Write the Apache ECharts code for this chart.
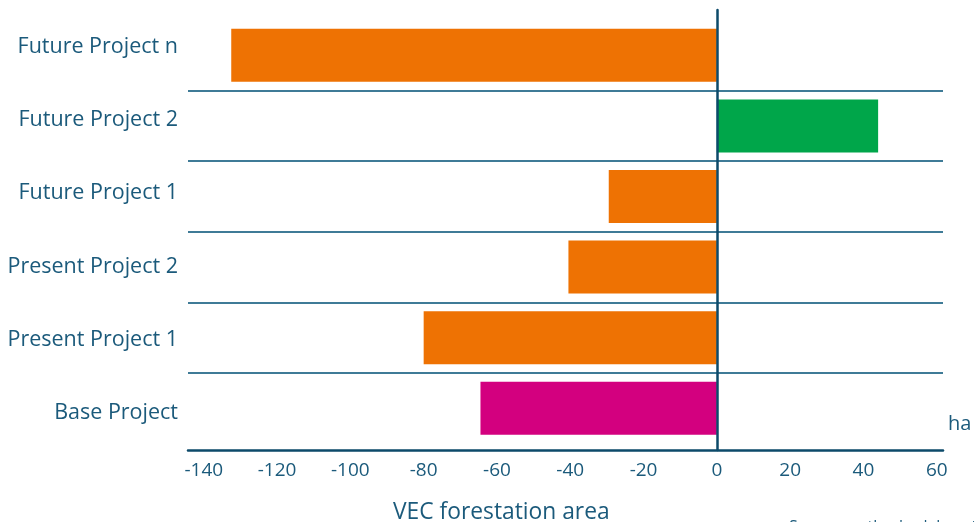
<!DOCTYPE html>
<html>
<head>
<meta charset="utf-8">
<script src="https://cdn.jsdelivr.net/npm/echarts@6/dist/echarts.min.js"></script>
<style>
  html, body { margin: 0; padding: 0; background: #ffffff; }
  #chart { width: 975px; height: 522px; }
</style>
</head>
<body>
<div id="chart"></div>
<script>
// Project categories, bottom to top
const categories = ['Base Project', 'Present Project 1', 'Present Project 2', 'Future Project 1', 'Future Project 2', 'Future Project n'];
// Change in forestation area per project (ha)
const values = [-64.5, -80, -40.5, -29.5, 44, -132.5];
// Bar colour per project
const barColors = ['#D3007F', '#EE7203', '#EE7203', '#EE7203', '#00A64A', '#EE7203'];
// Labelled ticks on the value axis
const tickValues = [-140, -120, -100, -80, -60, -40, -20, 0, 20, 40, 60];
const axisTitle = 'VEC forestation area';
const unitLabel = 'ha';
const sourceNote = "Source: author's elaboration";

const FONT = 'Open Sans';
const TEXT = '#1b5a7b';
const AXIS = '#0c4a6a';
const SEP = '#3f7b97';
const X_MIN = -144.3;
const X_MAX = 61.7;
const GRID_LEFT = 188;
const GRID_RIGHT = 32;

const chart = echarts.init(document.getElementById('chart'), null, { renderer: 'canvas' });

const option = {
  animation: false,
  backgroundColor: '#ffffff',
  textStyle: { fontFamily: FONT },
  grid: [
    // outer frame: value axis, zero line and category labels
    { left: GRID_LEFT, right: GRID_RIGHT, top: 10, bottom: 72, containLabel: false, outerBoundsMode: 'none' },
    // inner frame: bars and row separators
    { left: GRID_LEFT, right: GRID_RIGHT, top: 20, bottom: 78.4, containLabel: false, outerBoundsMode: 'none' }
  ],
  xAxis: [
    {
      gridIndex: 0,
      type: 'value',
      min: X_MIN,
      max: X_MAX,
      name: unitLabel,
      nameLocation: 'end',
      nameGap: 5,
      nameTextStyle: { color: TEXT, fontSize: 20, fontFamily: FONT, align: 'left', verticalAlign: 'bottom', padding: [0, 0, 16, 0] },
      axisLine: { show: true, onZero: false, lineStyle: { color: AXIS, width: 2.5 } },
      axisTick: { show: false },
      splitLine: { show: false },
      axisLabel: { customValues: tickValues, color: TEXT, fontSize: 19, fontFamily: FONT, margin: 11 }
    },
    {
      gridIndex: 1,
      type: 'value',
      min: X_MIN,
      max: X_MAX,
      show: false,
      splitLine: { show: false }
    }
  ],
  yAxis: [
    {
      gridIndex: 0,
      type: 'category',
      data: categories,
      z: 10,
      axisLine: { show: true, onZero: true, lineStyle: { color: AXIS, width: 2.5 } },
      axisTick: { show: false },
      axisLabel: { color: TEXT, fontSize: 21.5, fontFamily: FONT, margin: 10 },
      splitLine: { show: false }
    },
    {
      gridIndex: 1,
      type: 'category',
      data: categories,
      axisLine: { show: false },
      axisTick: { show: false },
      axisLabel: { show: false },
      splitLine: { show: true, showMinLine: false, showMaxLine: false, lineStyle: { color: SEP, width: 2 } }
    }
  ],
  series: [{
    type: 'bar',
    xAxisIndex: 1,
    yAxisIndex: 1,
    barWidth: 53,
    data: values.map((v, i) => ({ value: v, itemStyle: { color: barColors[i] } }))
  }],
  graphic: [
    { type: 'text', left: 393, top: 501, style: { text: axisTitle, fill: TEXT, font: '22.8px "' + FONT + '"' } },
    { type: 'text', left: 789, top: 519, style: { text: sourceNote, fill: TEXT, font: '16px "' + FONT + '"' } }
  ]
};
chart.setOption(option);
</script>
</body>
</html>
